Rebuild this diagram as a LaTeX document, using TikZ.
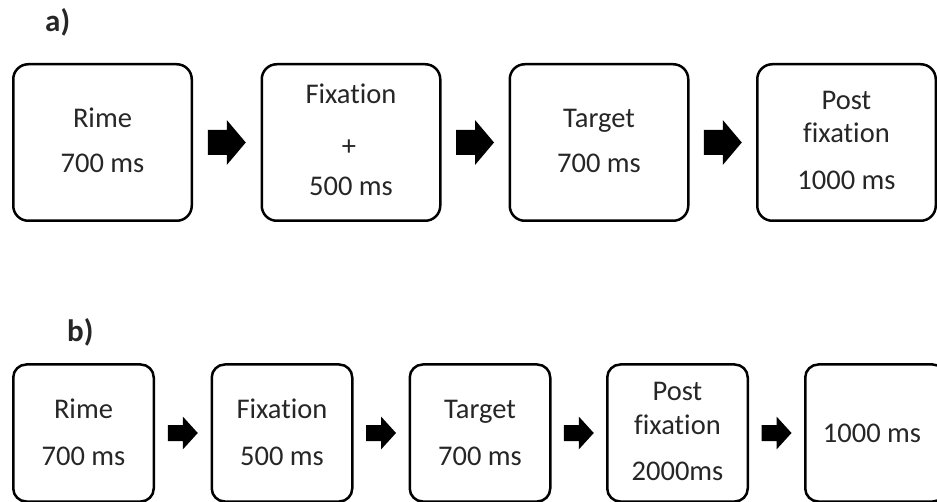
\documentclass[tikz,border=0pt]{standalone}
\usepackage{fontspec}
\setmainfont{Carlito}[Ligatures={NoCommon,NoRare,NoContextual}]
\definecolor{txtgray}{HTML}{262626}
\begin{document}
\begin{tikzpicture}[x=1pt,y=-1pt,
  box/.style={draw=black, line width=2.5pt, fill=white, inner sep=0pt},
  abox/.style={box, rounded corners=15pt, minimum width=178.5pt, minimum height=156.5pt},
  bbox/.style={box, rounded corners=13pt, minimum width=140.5pt, minimum height=137pt},
  txt/.style={font=\fontsize{28.5}{34}\selectfont, text=txtgray, anchor=base, inner sep=0pt},
  lbl/.style={font=\fontsize{31}{36}\selectfont\bfseries, text=txtgray, anchor=base west, inner sep=0pt},
  bigarrow/.pic={\fill[black] (-19,-12.5) -- (0,-12.5) -- (0,-22.5) -- (19,0) -- (0,22.5) -- (0,12.5) -- (-19,12.5) -- cycle;},
  smallarrow/.pic={\fill[black] (-15,-8) -- (0,-8) -- (0,-16.5) -- (15,0) -- (0,16.5) -- (0,8) -- (-15,8) -- cycle;}
]
\useasboundingbox (0,0) rectangle (937,502);
\clip (0,0) rectangle (937,502);
\fill[white] (0,0) rectangle (937,502);

% ---- a) ----
\node[lbl] (la) at (45,32) {a)};
\node[abox] (a1) at (102.5,142.5) {};
\node[abox] (a2) at (351,142.5) {};
\node[abox] (a3) at (599,142.5) {};
\node[abox] (a4) at (846.5,142.5) {};

\node[txt] (a1l1) at (102.5,128) {Rime};
\node[txt] (a1l2) at (102.5,173) {700 ms};
\node[txt] (a2l1) at (351,104) {Fixation};
\node[txt,anchor=center] (a2l2) at (349,148) {+};
\node[txt] (a2l3) at (351,196) {500 ms};
\node[txt] (a3l1) at (599,128) {Target};
\node[txt] (a3l2) at (599,173) {700 ms};
\node[txt] (a4l1) at (846.5,110) {Post};
\node[txt] (a4l2) at (846.5,143) {fixation};
\node[txt] (a4l3) at (846.5,190) {1000 ms};

\path (a1) -- (a2) coordinate[midway] (ma1);
\path (a2) -- (a3) coordinate[midway] (ma2);
\path (a3) -- (a4) coordinate[midway] (ma3);
\pic at (ma1) {bigarrow};
\pic at (ma2) {bigarrow};
\pic at (ma3) {bigarrow};

% ---- b) ----
\node[lbl] (lb) at (67,342) {b)};
\node[bbox] (b1) at (83.5,433) {};
\node[bbox] (b2) at (282,433) {};
\node[bbox] (b3) at (480,433) {};
\node[bbox] (b4) at (677.5,433) {};
\node[bbox] (b5) at (875.5,433) {};

\node[txt] (b1l1) at (83.5,418) {Rime};
\node[txt] (b1l2) at (83.5,465) {700 ms};
\node[txt] (b2l1) at (282,418) {Fixation};
\node[txt] (b2l2) at (282,465) {500 ms};
\node[txt] (b3l1) at (480,418) {Target};
\node[txt] (b3l2) at (480,465) {700 ms};
\node[txt] (b4l1) at (677.5,401) {Post};
\node[txt] (b4l2) at (677.5,434) {fixation};
\node[txt] (b4l3) at (677.5,480) {2000ms};
\node[txt] (b5l1) at (872,442) {1000 ms};

\path (b1) -- (b2) coordinate[midway] (mb1);
\path (b2) -- (b3) coordinate[midway] (mb2);
\path (b3) -- (b4) coordinate[midway] (mb3);
\path (b4) -- (b5) coordinate[midway] (mb4);
\pic at (mb1) {smallarrow};
\pic at (mb2) {smallarrow};
\pic at (mb3) {smallarrow};
\pic at (mb4) {smallarrow};
\end{tikzpicture}
\end{document}
